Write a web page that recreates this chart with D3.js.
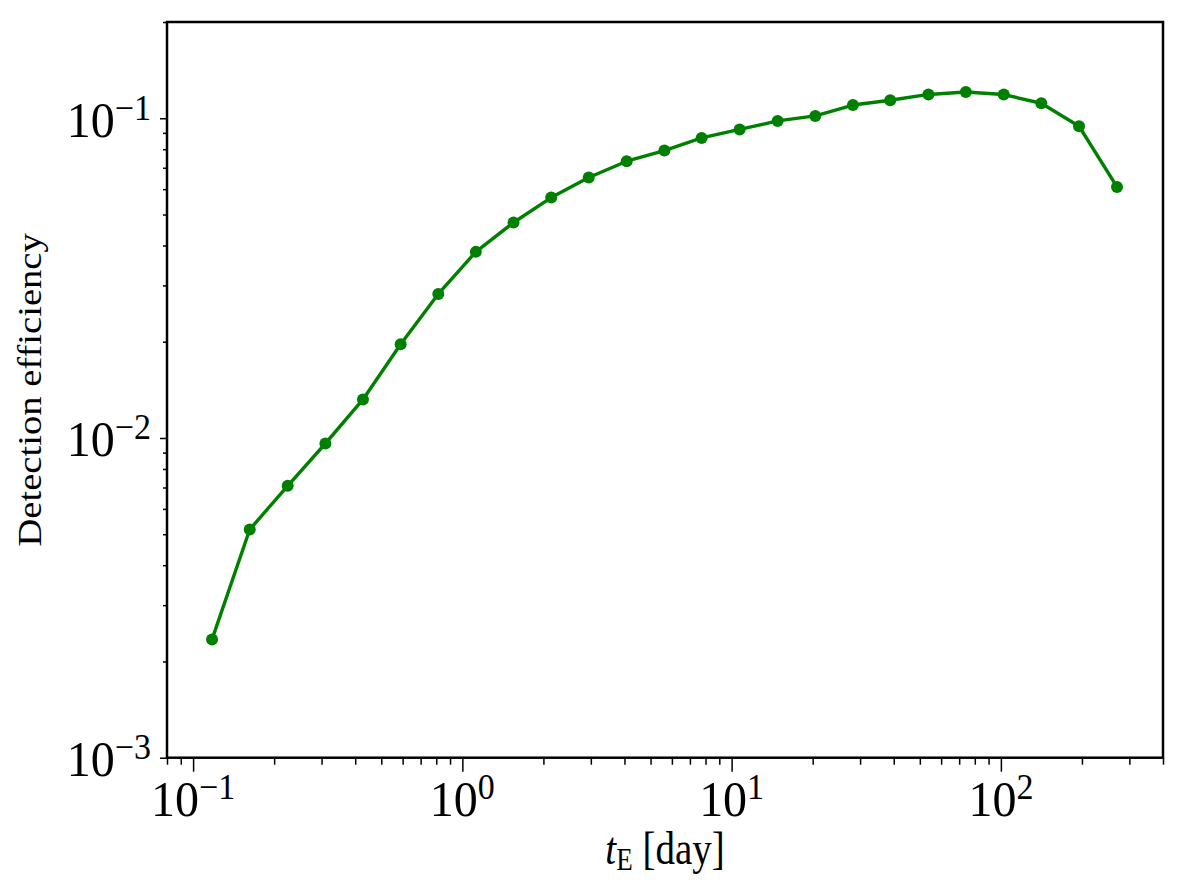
<!DOCTYPE html>
<html>
<head>
<meta charset="utf-8">
<script src="https://cdn.jsdelivr.net/npm/d3@7"></script>
<style>
  html, body { margin: 0; padding: 0; background: #fff; }
  svg { display: block; }
  text { font-family: "Liberation Serif", "Times New Roman", serif; fill: #000; }
</style>
</head>
<body>
<svg id="chart" width="1193" height="891"></svg>
<script>
// ---- data ----
const tE = [0.1176, 0.1623, 0.2246, 0.3100, 0.4274, 0.5899, 0.8140, 1.122, 1.549, 2.138,
            2.947, 4.077, 5.627, 7.738, 10.71, 14.82, 20.45, 28.22, 38.81, 53.83,
            74.10, 102.5, 141.3, 195.1, 269.9];
const efficiency = [0.002344, 0.005175, 0.007085, 0.00961, 0.01320, 0.01965, 0.02822, 0.03820, 0.04720, 0.05649,
                    0.06527, 0.07338, 0.07925, 0.08679, 0.09226, 0.0981, 0.1017, 0.1100, 0.1138, 0.1187,
                    0.1208, 0.1186, 0.1114, 0.0944, 0.0610];
const xDomain = [0.08, 400];
const yDomain = [0.001, 0.2];
const xTickExps = [-1, 0, 1, 2];
const yTickExps = [-3, -2, -1];
const xLabel = "day";
const yLabel = "Detection efficiency";

// ---- layout ----
const svg = d3.select("#chart");
const L = 167, R = 1163, T = 22, B = 757.7;
const k = 1.17; // vertical stretch of label text
const kt = 1.06; // vertical stretch of tick text
const x = d3.scaleLog().domain(xDomain).range([L, R]);
const y = d3.scaleLog().domain(yDomain).range([B, T]);

function minorTicks(domain) {
  const out = [];
  const e0 = Math.floor(Math.log10(domain[0])), e1 = Math.ceil(Math.log10(domain[1]));
  for (let e = e0; e <= e1; e++) {
    for (let m = 2; m <= 9; m++) {
      const v = m * Math.pow(10, e);
      if (v >= domain[0] * 0.9999 && v <= domain[1] * 1.0001) out.push(v);
    }
  }
  return out;
}
const xMajor = xTickExps.map(e => Math.pow(10, e));
const yMajor = yTickExps.map(e => Math.pow(10, e));

function styleAxis(g) {
  g.select(".domain").remove();
  g.selectAll(".tick line").attr("stroke", "#000").attr("stroke-width", 1.5);
  g.selectAll(".tick text").remove();
}

// x ticks
svg.append("g").attr("transform", `translate(0,${B})`)
  .call(d3.axisBottom(x).tickValues(minorTicks(xDomain)).tickSize(7).tickFormat(""))
  .call(styleAxis);
svg.append("g").attr("transform", `translate(0,${B})`)
  .call(d3.axisBottom(x).tickValues(xMajor).tickSize(14).tickFormat(""))
  .call(styleAxis);
// y ticks
svg.append("g").attr("transform", `translate(${L},0)`)
  .call(d3.axisLeft(y).tickValues(minorTicks(yDomain)).tickSize(4).tickFormat(""))
  .call(styleAxis);
svg.append("g").attr("transform", `translate(${L},0)`)
  .call(d3.axisLeft(y).tickValues(yMajor).tickSize(7).tickFormat(""))
  .call(styleAxis);

// power-of-ten labels
function powLabel(parent, px, py, exp, anchor) {
  const g = parent.append("g").attr("transform", `translate(${px},${py}) scale(1,${kt})`);
  const t = g.append("text").attr("text-anchor", anchor).attr("font-size", 48);
  t.append("tspan").text("10");
  t.append("tspan").attr("font-size", 34).attr("dy", -17 / kt)
    .text(exp < 0 ? "\u2212" + Math.abs(exp) : String(exp));
}
xTickExps.forEach(e => powLabel(svg, x(Math.pow(10, e)), 816, e, "middle"));
yTickExps.forEach(e => powLabel(svg, 151, y(Math.pow(10, e)) + 18.5, e, "end"));

// line + markers
const line = d3.line().x((d, i) => x(tE[i])).y(d => y(d));
svg.append("path").datum(efficiency)
  .attr("d", line).attr("fill", "none")
  .attr("stroke", "#008000").attr("stroke-width", 3.4).attr("stroke-linejoin", "round");
svg.selectAll("circle.pt").data(efficiency).enter().append("circle")
  .attr("class", "pt")
  .attr("cx", (d, i) => x(tE[i])).attr("cy", d => y(d))
  .attr("r", 6).attr("fill", "#008000");

// frame
svg.append("rect").attr("x", L).attr("y", T).attr("width", R - L).attr("height", B - T)
  .attr("fill", "none").attr("stroke", "#000").attr("stroke-width", 2.5);

// x label: t_E [day]
{
  const g = svg.append("g").attr("transform", `translate(${(L + R) / 2},864) scale(1,${k})`);
  const t = g.append("text").attr("text-anchor", "middle").attr("font-size", 39);
  t.append("tspan").attr("font-style", "italic").text("t");
  t.append("tspan").attr("font-size", 27).attr("dy", 5).text("E");
  t.append("tspan").attr("dy", -5).text("\u00a0[" + xLabel + "]");
}
// y label
{
  const g = svg.append("g").attr("transform", `translate(41,${(T + B) / 2}) rotate(-90) scale(${k},1)`);
  g.append("text").attr("text-anchor", "middle").attr("font-size", 33).text(yLabel);
}
</script>
</body>
</html>
